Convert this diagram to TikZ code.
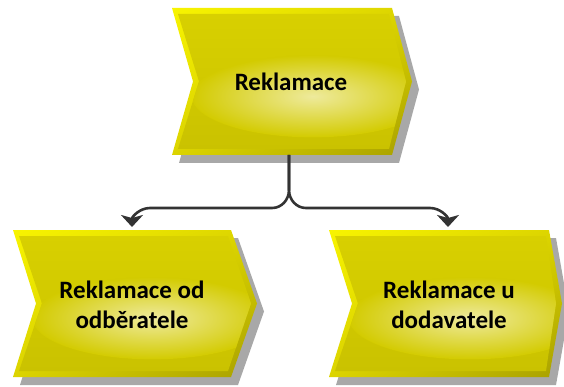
\documentclass[tikz,border=0pt]{standalone}
\usepackage{fontspec}
\setmainfont{Carlito}
\usetikzlibrary{arrows.meta,shadings}

\definecolor{rimlt}{HTML}{F8F400}
\definecolor{rimmid}{HTML}{DCD400}
\definecolor{rimdk}{HTML}{A8A000}
\definecolor{facetop}{HTML}{D8D000}
\definecolor{facebot}{HTML}{CAC200}
\definecolor{facemid}{HTML}{D3CB00}
\definecolor{glossc}{HTML}{EEEA9C}
\definecolor{shadowc}{HTML}{A8A8A8}
\definecolor{connc}{HTML}{333333}

\tikzset{
  % outline of a value-chain chevron: x, y, width, height, notch depth, tip depth
  chev/.style n args={6}{insert path={(#1,#2) -- ({#1+#3},#2) -- ({#1+#3+#6},{#2+#4/2})
      -- ({#1+#3},{#2+#4}) -- (#1,{#2+#4}) -- ({#1+#5},{#2+#4/2}) -- cycle}},
  % the same outline inset for the face
  chevin/.style n args={6}{insert path={({#1+6},{#2+6}) -- ({#1+#3-3},{#2+6})
      -- ({#1+#3+#6-6},{#2+#4/2}) -- ({#1+#3-3},{#2+#4-6}) -- ({#1+6},{#2+#4-6})
      -- ({#1+#5+6},{#2+#4/2}) -- cycle}},
  lbl/.style={font=\bfseries\fontsize{25}{30}\selectfont, text=black, align=center, inner sep=0pt},
  conn/.style={draw=connc, line width=2.6pt, -{Stealth[length=12pt,width=22pt,inset=3pt]}},
}

% one glossy chevron with its drop shadow
\newcommand\vcshape[6]{%
  \fill[shadowc, shift={(7,8)}, chev={#1}{#2}{#3}{#4}{#5}{#6}];
  \shade[upper left=rimlt, upper right=rimmid, lower left=rimmid, lower right=rimdk,
         chev={#1}{#2}{#3}{#4}{#5}{#6}];
  \shade[top color=facetop, bottom color=facebot, chevin={#1}{#2}{#3}{#4}{#5}{#6}];
  \begin{scope}
    \clip[chevin={#1}{#2}{#3}{#4}{#5}{#6}];
    \shade[inner color=glossc, outer color=facemid]
      ({#1+0.64*#3},{#2+0.6*#4}) ellipse [x radius={0.55*#3}, y radius={0.28*#4}];
  \end{scope}
}

\begin{document}
\begin{tikzpicture}[x=1pt, y=-1pt]
  \useasboundingbox (0,0) rectangle (564,387);

  % the three functions
  \vcshape{172}{8}{220}{147}{21}{20}
  \vcshape{13}{230}{218}{147}{23}{26}
  \vcshape{329}{230}{220}{147}{23}{13}

  \node[lbl] (main) at (291,82) {Reklamace};
  \node[lbl] (cust) at (132,305) {Reklamace od\\odběratele};
  \node[lbl] (supp) at (449,305) {Reklamace u\\dodavatele};

  % connector ends
  \coordinate (mainbase) at (289,155);
  \coordinate (split) at (289,190);
  \coordinate (custtop) at (132,227);
  \coordinate (supptop) at (448,227);

  \draw[conn] (mainbase) -- (split) to[out=-90, in=0] (272,208) -- (150,208)
    to[out=180, in=90] (custtop);
  \draw[conn] (mainbase) -- (split) to[out=-90, in=180] (306,208) -- (430,208)
    to[out=0, in=90] (supptop);
\end{tikzpicture}
\end{document}
